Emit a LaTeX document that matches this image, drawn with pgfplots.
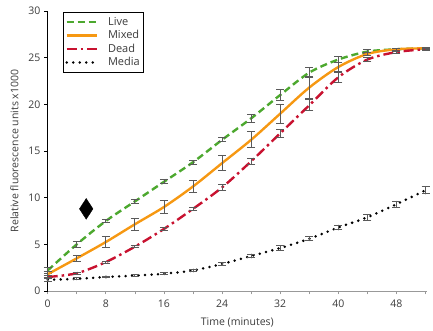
\documentclass[border=0pt]{standalone}
\usepackage{fontspec}
\setmainfont{Open Sans}
\usepackage{pgfplots}
\pgfplotsset{compat=1.18}
\definecolor{cLive}{RGB}{76,168,46}
\definecolor{cMixed}{RGB}{246,152,18}
\definecolor{cDead}{RGB}{200,18,48}
\definecolor{cTxt}{RGB}{60,60,60}
\definecolor{cErr}{RGB}{90,90,90}
\begin{document}
\fontsize{11bp}{13bp}\selectfont
\begin{tikzpicture}
\begin{axis}[name=ax,
  scale only axis, width=379.3bp, height=280bp,
  xmin=0, xmax=52.2, ymin=0, ymax=30,
  axis lines=left, axis line style={-},
  x axis line style={gray!80, line width=1pt},
  y axis line style={black, line width=0.8pt},
  xtick={0,8,...,48}, minor xtick={4,12,...,52},
  ytick={0,5,...,30},
  tick align=outside, major tick length=3.5bp, minor tick length=3.5bp,
  x tick style={gray!80, line width=0.7pt},
  y tick style={black, line width=0.7pt},
  /pgf/number format/assume math mode=true,
  tick label style={font=\fontsize{10.5bp}{12bp}\selectfont, text=cTxt},
  xticklabel style={yshift=-2bp},
  xlabel={Time (minutes)}, ylabel={Relative fluorescence units x1000},
  xlabel style={at={(axis description cs:0.5,-0.111)}, anchor=center, font=\fontsize{10.5bp}{12bp}\selectfont, text=cTxt},
  ylabel style={at={(axis description cs:-0.088,0.5)}, anchor=center, font=\fontsize{10.5bp}{12bp}\selectfont, text=cTxt},
  legend style={at={(0.04,0.995)}, anchor=north west, draw=black, line width=0.8pt,
    font=\fontsize{11bp}{12bp}\selectfont, text=cTxt, row sep=-0.5bp, inner xsep=2bp, inner ysep=2.5bp},
  legend cell align=left,
  legend image code/.code={\draw[#1] (2bp,0bp) -- (32bp,0bp); \path (40bp,0bp);},
  error bars/error bar style={cErr, line width=0.9pt, solid},
  error bars/error mark options={rotate=90, mark size=4bp, cErr, line width=0.9pt, solid},
  clip=false,
]
\addplot[cLive, line width=2.4pt, dash pattern=on 7bp off 4bp, smooth,
  error bars/.cd, y dir=both, y explicit] table[x=x,y=y,y error=e] {
x y e
0 2.2 0.3
4 5.0 0.3
8 7.5 0.2
12 9.6 0.25
16 11.7 0.2
20 13.8 0.2
24 16.2 0.2
28 18.5 0.4
32 21.0 0.6
36 23.4 0.5
40 24.8 0.35
44 25.65 0.2
48 25.9 0.1
52 26.0 0.1
};
\addlegendentry{Live}
\addplot[cMixed, line width=2.4pt, solid, smooth,
  error bars/.cd, y dir=both, y explicit] table[x=x,y=y,y error=e] {
x y e
0 1.8 0.3
4 3.5 0.3
8 5.25 0.6
12 7.15 0.65
16 9.0 0.65
20 11.2 0.65
24 13.7 0.8
28 16.2 0.85
32 19.0 1.0
36 21.8 1.2
40 24.0 0.5
44 25.4 0.2
48 25.9 0.1
52 26.0 0.1
};
\addlegendentry{Mixed}
\addplot[cDead, line width=2.4pt, dash pattern=on 10bp off 4bp on 2.5bp off 4bp, smooth,
  error bars/.cd, y dir=both, y explicit] table[x=x,y=y,y error=e] {
x y e
0 1.5 0.2
4 1.9 0.1
8 3.1 0.1
12 4.75 0.1
16 6.65 0.15
20 8.8 0.2
24 11.1 0.35
28 13.9 0.3
32 16.9 0.4
36 19.9 0.6
40 22.9 0.55
44 24.8 0.2
48 25.6 0.1
52 25.9 0.1
};
\addlegendentry{Dead}
\addplot[black, line width=2.8pt, dash pattern=on 0bp off 6.5bp, line cap=round, smooth,
  error bars/.cd, y dir=both, y explicit] table[x=x,y=y,y error=e] {
x y e
0 1.2 0.2
4 1.3 0.1
8 1.5 0.1
12 1.65 0.1
16 1.85 0.1
20 2.2 0.15
24 2.9 0.15
28 3.75 0.2
32 4.6 0.25
36 5.6 0.2
40 6.8 0.25
44 7.9 0.3
48 9.3 0.3
52 10.8 0.4
};
\addlegendentry{Media}
\addplot[only marks, mark=diamond*, mark size=9bp, black, mark options={yscale=1.15}, forget plot] coordinates {(5.3,8.8)};
\end{axis}
\pgfresetboundingbox
\path[use as bounding box] ([xshift=-47.7bp,yshift=-40bp]ax.south west) rectangle ([xshift=6bp,yshift=11bp]ax.north east);
\end{tikzpicture}
\end{document}
